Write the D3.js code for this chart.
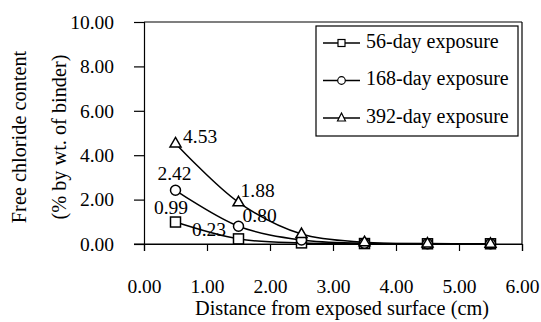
<!DOCTYPE html>
<html><head><meta charset="utf-8">
<script src="https://cdn.jsdelivr.net/npm/d3@7"></script>
<style>body{margin:0;background:#fff}svg{display:block}</style>
</head><body>
<script>
const distances = [0.5, 1.5, 2.5, 3.5, 4.5, 5.5];
const day56 = [0.99, 0.23, 0.05, 0.02, 0.01, 0.01];
const day168 = [2.42, 0.80, 0.18, 0.03, 0.01, 0.01];
const day392 = [4.53, 1.88, 0.45, 0.08, 0.02, 0.01];
const seriesNames = ["56-day exposure", "168-day exposure", "392-day exposure"];
const xTicks = [0, 1, 2, 3, 4, 5, 6];
const yTicks = [0, 2, 4, 6, 8, 10];

const FONT = "'Liberation Serif', 'Times New Roman', Times, serif";
const W = 541, H = 322;
const m = {left:144, right:19, top:22, bottom:78};
const svg = d3.select("body").append("svg").attr("width", W).attr("height", H)
  .style("font-family", FONT);
const x = d3.scaleLinear().domain([0, 6]).range([m.left, W - m.right]);
const y = d3.scaleLinear().domain([0, 10]).range([H - m.bottom, m.top]);

const fs = 19.5, fsT = 20.3;
svg.append("line").attr("x1", x(0)).attr("x2", x(6)).attr("y1", y(10)).attr("y2", y(10)).attr("stroke","#000").attr("stroke-width",1.2);
svg.append("line").attr("x1", x(6)).attr("x2", x(6)).attr("y1", y(10)).attr("y2", y(0)).attr("stroke","#000").attr("stroke-width",1.2);

const yAxis = svg.append("g").attr("transform", `translate(${x(0)},0)`)
  .call(d3.axisLeft(y).tickValues(yTicks).tickSize(10).tickPadding(20).tickFormat(d3.format(".2f")));
const xAxis = svg.append("g").attr("transform", `translate(0,${y(0)})`)
  .call(d3.axisBottom(x).tickValues(xTicks).tickSize(7).tickPadding(28).tickFormat(d3.format(".2f")));
[yAxis, xAxis].forEach(a => {
  a.attr("font-family", null).attr("font-size", null);
  a.select(".domain").attr("stroke","#000").attr("stroke-width",1.2);
  a.selectAll(".tick line").attr("stroke","#000").attr("stroke-width",1.2);
  a.selectAll("text").style("font-family", FONT).attr("font-size", fs).attr("fill","#000");
});
svg.append("line").attr("x1", x(0)-10).attr("x2", x(6)).attr("y1", y(0)).attr("y2", y(0)).attr("stroke","#000").attr("stroke-width",1.2);

function txt(size) { return svg.append("text").style("font-family", FONT).attr("font-size", size || fs).attr("fill","#000"); }
txt(fsT).attr("x", x(3) + 9).attr("y", 315).attr("text-anchor","middle").text("Distance from exposed surface (cm)");
txt(fsT).attr("transform", "translate(26,137) rotate(-90)").attr("text-anchor","middle").text("Free chloride content");
txt(fsT).attr("transform", "translate(66,137) rotate(-90)").attr("text-anchor","middle").text("(% by wt. of binder)");

const series = [day56, day168, day392];
const line = d3.line().x(d => x(d[0])).y(d => y(d[1])).curve(d3.curveCatmullRom.alpha(0.5));
function marker(g, type, cx, cy) {
  if (type === 0) g.append("rect").attr("x", cx-5).attr("y", cy-5).attr("width",10).attr("height",10);
  else if (type === 1) g.append("circle").attr("cx", cx).attr("cy", cy).attr("r", 5);
  else g.append("path").attr("d", `M${cx},${cy-6}L${cx+5.5},${cy+3.5}L${cx-5.5},${cy+3.5}Z`);
}
series.forEach((vals) => {
  const pts = distances.map((d, j) => [d, vals[j]]);
  svg.append("path").attr("d", line(pts)).attr("fill","none").attr("stroke","#000").attr("stroke-width",1.5);
});
series.forEach((vals, i) => {
  const g = svg.append("g").attr("fill","#fff").attr("stroke","#000").attr("stroke-width",1.5);
  distances.forEach((d, j) => marker(g, i, x(d), y(vals[j])));
});

const labels = [
  {s:0, j:0, dx:-4.5, dy:-12, anchor:"middle"},
  {s:0, j:1, dx:-29.5, dy:-7, anchor:"middle"},
  {s:1, j:0, dx:-1, dy:-15, anchor:"middle"},
  {s:1, j:1, dx:4, dy:-9, anchor:"start"},
  {s:2, j:0, dx:7.5, dy:-5, anchor:"start"},
  {s:2, j:1, dx:2, dy:-10, anchor:"start"}
];
labels.forEach(l => {
  const v = series[l.s][l.j];
  txt().attr("x", x(distances[l.j]) + l.dx).attr("y", y(v) + l.dy)
    .attr("text-anchor", l.anchor).attr("dominant-baseline","middle").text(v.toFixed(2));
});

const lg = svg.append("g");
lg.append("rect").attr("x",316).attr("y",26).attr("width",202).attr("height",110).attr("fill","#fff").attr("stroke","#000").attr("stroke-width",1.2);
seriesNames.forEach((n, i) => {
  const yy = 43 + i*37.5;
  lg.append("line").attr("x1",323).attr("x2",360).attr("y1",yy).attr("y2",yy).attr("stroke","#000").attr("stroke-width",1.5);
  const g = lg.append("g").attr("fill","#fff").attr("stroke","#000").attr("stroke-width",1.2);
  if (i===0) g.append("rect").attr("x",338).attr("y",yy-3.5).attr("width",7).attr("height",7);
  else if (i===1) g.append("circle").attr("cx",341.5).attr("cy",yy).attr("r",3.8);
  else g.append("path").attr("d",`M341.5,${yy-5}L345.5,${yy+3}L337.5,${yy+3}Z`);
  txt(20).attr("x",366).attr("y",yy).attr("dominant-baseline","middle").text(n);
});
</script>
</body></html>
